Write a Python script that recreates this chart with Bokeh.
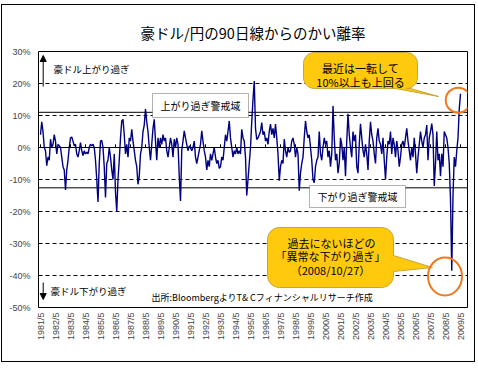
import math
from bokeh.plotting import figure
from bokeh.models import (Range1d, FixedTicker, CustomJSTickFormatter, Span, BoxAnnotation,
                          Label, Arrow, NormalHead)
from bokeh.embed import file_html
from bokeh.resources import INLINE

TITLE = "豪ドル/円の90日線からのかい離率"
START_YEAR, START_MONTH = 1981, 5

# monthly deviation (%) from the 90-day moving average
dev_1981 = [4, 8, 5, 0, -1, -5.7, -3, -4]          # May-Dec
dev_1982 = [2.6, 0, 1, 4, 2, -2, 1, 0.5, 0, -3, -6, -7]
dev_1983 = [-13.3, -7, -4, 0, 3, 3.3, 2, 0.5, 1, -2, -3, -1]
dev_1984 = [1.5, -1, -2.5, -1, -2, -1.5, -2, 0, 1, 0.5, 1, 0]
dev_1985 = [-4, -10, -17, -5, 2, 2.2, 0, -6, -15.6, -5, -4, 0]
dev_1986 = [-3, -7, -10, -2, -14, -20, -10, -4, 3, 8.3, 8.8, 4]
dev_1987 = [-2, 1, -3, 3, 2, 5.7, 2, -1, -4, -6, -11.5, -9]
dev_1988 = [-2, 0, 5, 7, 12, 8, 5, 0, -4, 1, 6, 8.8]
dev_1989 = [2, -4, 3, 0, 3, 1, 4, 2, 3, -1, -3, 0]
dev_1990 = [3, 1, -3, 2.6, 0, 3, 1, -9, -16.7, -1, 2, 5.2]
dev_1991 = [3, 1, -1, 0.5, 0, -1, 0, 2, -3, -5, -3, -1]
dev_1992 = [1, 5.2, 2, -1, -3, -7, -4, -6, -2, -4, -2, 0]
dev_1993 = [-3, -5, -4, -6.5, -6, -3, -4, 0, 4, 2, 5, 8.3]
dev_1994 = [3, 0, -3, -1, -2, 0, -2, -1, -2, 5.7, 3, 2]
dev_1995 = [-3, -15, -10, -5, 0, 8, 15, 20.8, 6, 2.5, 3, 4]
dev_1996 = [5, 7.8, 4, 5, 2, 3, 1, 5, 7.3, 4, 6, 3]
dev_1997 = [7.3, 3, -2, -10.4, -6, -4, -5, 2.6, -1, -3, 0, -1.5]
dev_1998 = [-1, 2, 3, 1, -3, 0, -2, -13.5, -8, -5, -3, 3]
dev_1999 = [8.3, 5, 3, 4, 0, -4, -10, -11, -6, -4, -3, 5]
dev_2000 = [-2, -4, 0, 3, 1, 2, -3, -1, -6, -2, 13, 3]
dev_2001 = [-4, -2, -8, -5, 3, 1, -4, 0, -9, 2, 10.5, 4]
dev_2002 = [0, -3, 5, 2, 4, -6, -8, 1, 7.4, 3, -1, -3]
dev_2003 = [1, -2, -7, 2, 8, 4, 2, -2, -5, 3, 6, 2]
dev_2004 = [1, -2, 3, -4, -10, -3, 2, 1, 5, -2, 3, 1]
dev_2005 = [-3, 2, -1, -6, -3, 1, 2, 0, 3, 6, 2, -1]
dev_2006 = [-4, 0, -3, 3, -2, -8, -3, 1, 5, 2, 0, 3]
dev_2007 = [4, 7, -4, 3, 5, 7.5, 4, -12, -5, 5, -4, -2]
dev_2008 = [-9, -2, -6, 5, 4, 3, 0, -5, -16, -38.5, -15, -3]
dev_2009 = [-6, -1, 3, 12, 16.8]                      # Jan-May

yearly = [dev_1981, dev_1982, dev_1983, dev_1984, dev_1985, dev_1986, dev_1987,
          dev_1988, dev_1989, dev_1990, dev_1991, dev_1992, dev_1993, dev_1994,
          dev_1995, dev_1996, dev_1997, dev_1998, dev_1999, dev_2000, dev_2001,
          dev_2002, dev_2003, dev_2004, dev_2005, dev_2006, dev_2007, dev_2008,
          dev_2009]

label_years = list(range(1981, 2010))
y_ticks = [-50, -40, -30, -20, -10, 0, 10, 20, 30]
upper_warn = 11.0
lower_warn = -12.6

values = [v for yr in yearly for v in yr]
t = [START_YEAR + (START_MONTH - 1 + i) / 12 for i in range(len(values))]
tick_t = [y + 4 / 12 for y in label_years]

# page geometry (pixels) of the chart box and of the plotting frame
OX, OY = 2, 5                 # top-left corner of the figure on the page
W, H = 472, 356
FX0, FX1, FY0, FY1 = 38, 467, 51, 307
X_START = 1981.2
X_END = X_START + (FX1 - FX0) / 15.0
Y_MIN, Y_MAX = -50, 30


def tx(X):
    return X_START + (X - FX0) * (X_END - X_START) / (FX1 - FX0)


def vy(Y):
    return Y_MAX - (Y - FY0) * (Y_MAX - Y_MIN) / (FY1 - FY0)


PX_T = (FX1 - FX0) / (X_END - X_START)
PX_V = (FY1 - FY0) / (Y_MAX - Y_MIN)

JP = "Noto Sans CJK JP"

p = figure(width=W, height=H, output_backend="svg", toolbar_location=None,
           x_range=Range1d(X_START, X_END), y_range=Range1d(Y_MIN, Y_MAX),
           min_border_left=FX0 - OX, min_border_right=(OX + W) - FX1,
           min_border_top=FY0 - OY, min_border_bottom=(OY + H) - FY1,
           margin=(OY, 0, 0, OX),
           styles={"outline": "1px solid black"})
p.background_fill_color = "white"
p.border_fill_color = "white"
p.outline_line_color = "black"
p.outline_line_width = 1

p.title.text = TITLE
p.title.text_font = JP
p.title.text_font_size = "14.5px"
p.title.text_font_style = "normal"
p.title.text_color = "black"
p.title.align = "center"
p.title.offset = -18
p.title.standoff = 17

# axes
p.xaxis.ticker = FixedTicker(ticks=tick_t)
p.xaxis.formatter = CustomJSTickFormatter(code="return Math.round(tick - 1/3) + '/5';")
p.xaxis.major_label_orientation = math.pi / 2
p.xaxis.major_label_text_font = "Liberation Sans"
p.xaxis.major_label_text_font_size = "9px"
p.xaxis.major_label_standoff = 5
p.xaxis.major_tick_out = 0
p.xaxis.major_tick_in = 0
p.xaxis.minor_tick_out = 0
p.xaxis.minor_tick_in = 0
p.xaxis.axis_line_color = None

p.yaxis.ticker = FixedTicker(ticks=y_ticks)
p.yaxis.formatter = CustomJSTickFormatter(code="return tick + '%';")
p.yaxis.major_label_text_font = "Liberation Sans"
p.yaxis.major_label_text_font_size = "9px"
p.yaxis.major_label_standoff = 8
p.yaxis.major_tick_out = 0
p.yaxis.major_tick_in = 0
p.yaxis.minor_tick_out = 0
p.yaxis.minor_tick_in = 0
p.yaxis.axis_line_color = None

p.xgrid.visible = False
p.ygrid.ticker = FixedTicker(ticks=y_ticks)
p.ygrid.grid_line_color = "black"
p.ygrid.grid_line_dash = "4 3"
p.ygrid.grid_line_width = 1

for lvl in (0, upper_warn, lower_warn):
    p.add_layout(Span(location=lvl, dimension="width", line_color="black",
                      line_width=1, level="underlay"))

# small tick marks on the zero line
p.segment(x0=tick_t, y0=0, x1=tick_t, y1=1.0, line_color="black", line_width=1)

# data line
p.line(t, values, line_color="#000080", line_width=1.4)


# callout bubbles
def callout(x0, y0, x1, y1, r, side, b0, b1, tip, n=6):
    pts = []

    def arc(cx, cy, a0, a1):
        for k in range(n + 1):
            a = math.radians(a0 + (a1 - a0) * k / n)
            pts.append((cx + r * math.cos(a), cy + r * math.sin(a)))

    arc(x1 - r, y0 + r, -90, 0)
    if side == "right":
        pts.extend([(x1, b0), tip, (x1, b1)])
    arc(x1 - r, y1 - r, 0, 90)
    if side == "bottom":
        pts.extend([(b1, y1), tip, (b0, y1)])
    arc(x0 + r, y1 - r, 90, 180)
    arc(x0 + r, y0 + r, 180, 270)
    return [tx(a) for a, _ in pts], [vy(b) for _, b in pts]


BUBBLE_FILL = "#FFC90E"
BUBBLE_LINE = "#C9A43C"
bx, by = callout(303, 52, 417, 88, 11, "bottom", 395, 410, (438, 96))
p.patch(bx, by, fill_color=BUBBLE_FILL, line_color=BUBBLE_LINE, line_width=1)
bx, by = callout(267, 227, 393, 287, 12, "right", 255, 271, (432, 267))
p.patch(bx, by, fill_color=BUBBLE_FILL, line_color=BUBBLE_LINE, line_width=1)

# orange highlight circles around the latest spike and the record low
i_min = values.index(min(values))
i_last = len(values) - 1
p.ellipse(x=[t[i_last] - 0.15, t[i_min] - 0.45], y=[values[i_last] - 2.0, values[i_min] - 1.8],
          width=[25 / PX_T, 34 / PX_T], height=[25 / PX_V, 38 / PX_V],
          fill_color=None, line_color="#F07820", line_width=2)

# warning-zone boxes
p.add_layout(BoxAnnotation(left=tx(152), right=tx(248), top=vy(93), bottom=vy(117),
                           fill_color="white", fill_alpha=1, line_color="black", line_width=1))
p.add_layout(BoxAnnotation(left=tx(309), right=tx(405), top=vy(185), bottom=vy(207),
                           fill_color="white", fill_alpha=1, line_color="black", line_width=1))


def lab(X, Y, text, size="10px", align="center"):
    p.add_layout(Label(x=tx(X), y=vy(Y), text=text, text_font=JP, text_font_size=size,
                       text_align=align, text_baseline="middle", text_color="black"))


lab(200, 105, "上がり過ぎ警戒域")
lab(357, 196, "下がり過ぎ警戒域")
lab(53, 68, "豪ドル上がり過ぎ", "9.5px", "left")
lab(50, 290, "豪ドル下がり過ぎ", "9.5px", "left")
lab(151, 297, "出所:BloombergよりT& Cフィナンシャルリサーチ作成", "9px", "left")
lab(360, 67, "最近は一転して", "11px")
lab(360, 81, "10%以上も上回る", "11px")
lab(331, 242, "過去にないほどの", "11px")
lab(330, 255, "「異常な下がり過ぎ」", "11px")
lab(330, 269, "（2008/10/27）", "11px")

# arrows
p.add_layout(Arrow(end=NormalHead(size=6, fill_color="black", line_color="black"),
                   x_start=tx(42.7), y_start=vy(86), x_end=tx(42.7), y_end=vy(55),
                   line_color="black", line_width=1))
p.add_layout(Arrow(end=NormalHead(size=6, fill_color="black", line_color="black"),
                   x_start=tx(42.7), y_start=vy(282), x_end=tx(42.7), y_end=vy(299),
                   line_color="black", line_width=1))

open("out.html", "w").write(file_html(p, INLINE))
